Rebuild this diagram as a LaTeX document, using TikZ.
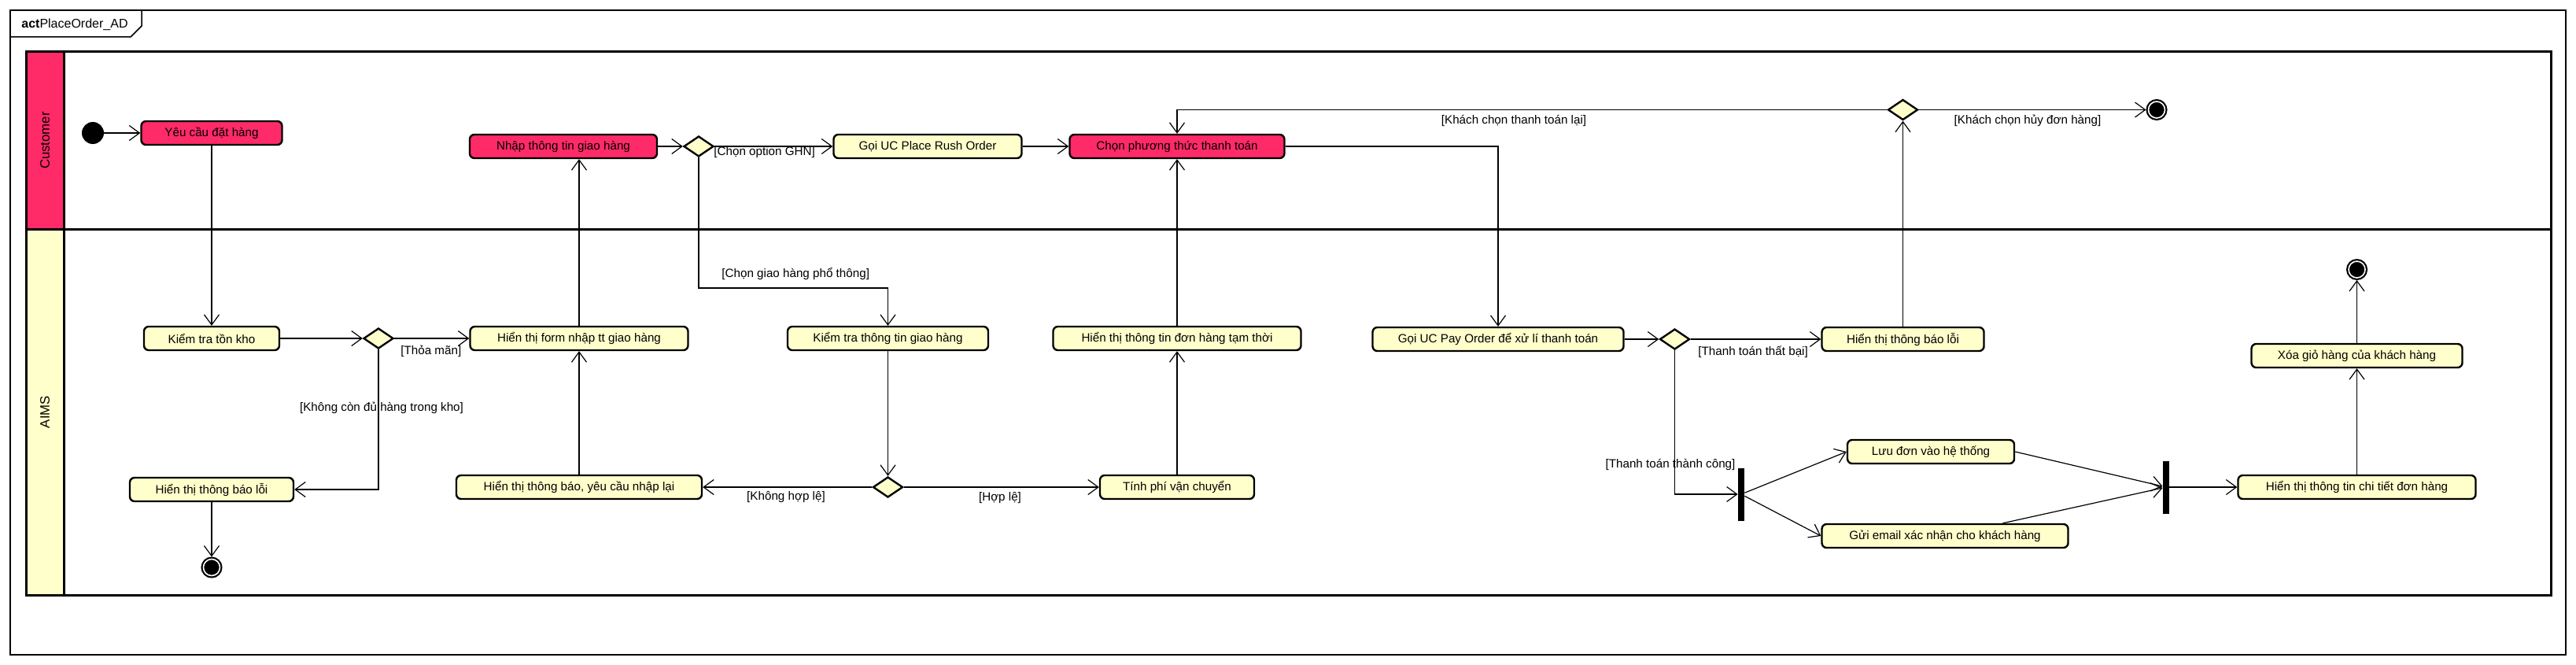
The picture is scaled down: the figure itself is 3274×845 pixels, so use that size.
\documentclass[tikz,border=0pt]{standalone}
\usepackage{fontspec}
\setmainfont{Liberation Sans}
\usepackage{tikz}
\usetikzlibrary{arrows.meta,shapes}

\definecolor{custpink}{HTML}{FF2A68}
\definecolor{aimsyellow}{HTML}{FFFFCC}
\newcommand{\actfont}{\fontsize{7.6pt}{9pt}\selectfont}

\tikzset{
    act/.style={draw, line width=1.2pt, rounded corners=3pt, fill=aimsyellow,
        minimum width=#1, minimum height=15pt, inner sep=0pt, font=\actfont},
    cact/.style={act=#1, fill=custpink},
    choice/.style={diamond, draw, line width=1.2pt, fill=aimsyellow,
        minimum width=19pt, minimum height=13pt, inner sep=0pt},
    initnode/.style={circle, fill=black, minimum size=14pt, inner sep=0pt},
    finalnode/.style={circle, fill=black, draw=black, double=white,
        double distance=0.8pt, line width=1.1pt, minimum size=10.5pt,
        inner sep=0pt, outer sep=1.5pt},
    forkbar/.style={rectangle, fill=black, minimum width=4pt,
        minimum height=33.5pt, inner sep=0pt},
    flow/.style={-{Straight Barb[length=6.5pt,width=9.5pt]}, line width=0.6pt},
    guard/.style={font=\actfont, inner sep=0pt},
    lane/.style={line width=1.5pt},
    lanename/.style={rotate=90, font=\fontsize{8.4pt}{10pt}\selectfont}
}

\begin{document}
\begin{tikzpicture}[x=0.5pt, y=-0.5pt]
    \useasboundingbox (0,0) rectangle (3274,845);
    \draw[line width=0.75pt] (13,13) rectangle (3261,832);
    \draw[line width=0.75pt] (13,47) -- (166,47) -- (180,33) -- (180,13);
    \node[anchor=west, inner sep=0pt, font=\fontsize{8pt}{10pt}\selectfont] (title) at (27,31) {\textbf{act}PlaceOrder\_AD};

    \fill[custpink] (33,66) rectangle (81,291);
    \fill[aimsyellow] (33,291) rectangle (81,756);
    \draw[lane] (33,66) rectangle (3242,756);
    \draw[lane] (33,291) -- (3242,291);
    \draw[lane] (81,66) -- (81,756);
    \node[lanename] (customer) at (57,178.5) {Customer};
    \node[lanename] (aims) at (57,523.5) {AIMS};

    \node[initnode] (init) at (118,169) {};
    \node[cact=89.5pt] (yeucau) at (269,169) {Yêu cầu đặt hàng};
    \node[cact=119pt] (nhaptt) at (716,186) {Nhập thông tin giao hàng};
    \node[choice] (dec2) at (888,186) {};
    \node[act=119.5pt] (rush) at (1179,186) {Gọi UC Place Rush Order};
    \node[cact=136.5pt] (chonpt) at (1496,186) {Chọn phương thức thanh toán};
    \node[choice] (dec5) at (2418.5,139.5) {};
    \node[finalnode] (end2) at (2741,139.5) {};

    \node[act=86pt] (tonkho) at (269,430) {Kiểm tra tồn kho};
    \node[choice] (dec1) at (481,430) {};
    \node[act=138.5pt] (form) at (736,430) {Hiển thị form nhập tt giao hàng};
    \node[act=127.5pt] (kiemtt) at (1128.5,430) {Kiểm tra thông tin giao hàng};
    \node[act=157.5pt] (tamthoi) at (1496,430) {Hiển thị thông tin đơn hàng tạm thời};
    \node[act=159.5pt] (payorder) at (1904,431) {Gọi UC Pay Order để xử lí thanh toán};
    \node[choice] (dec4) at (2128.5,431) {};
    \node[act=103pt] (loi2) at (2418.5,431) {Hiển thị thông báo lỗi};
    \node[finalnode] (end3) at (2995.5,342.5) {};
    \node[act=134pt] (xoagio) at (2995.5,452) {Xóa giỏ hàng của khách hàng};

    \node[act=104pt] (loi1) at (269,622) {Hiển thị thông báo lỗi};
    \node[finalnode] (end1) at (269,721) {};
    \node[act=156pt] (nhaplai) at (736,619) {Hiển thị thông báo, yêu cầu nhập lại};
    \node[choice] (dec3) at (1128.5,619) {};
    \node[act=98pt] (phivc) at (1496,619) {Tính phí vận chuyển};
    \node[forkbar] (fork) at (2213,628) {};
    \node[act=106pt] (luudon) at (2454,574) {Lưu đơn vào hệ thống};
    \node[act=156.5pt] (email) at (2472,681) {Gửi email xác nhận cho khách hàng};
    \node[forkbar] (join) at (2753,619) {};
    \node[act=151pt] (chitiet) at (2995.5,619) {Hiển thị thông tin chi tiết đơn hàng};

    \node[guard, anchor=west] (gthoaman) at (509,446) {[Thỏa mãn]};
    \node[guard] (gkhongdu) at (485,518) {[Không còn đủ hàng trong kho]};
    \node[guard, anchor=west] (gghn) at (907,194) {[Chọn option GHN]};
    \node[guard, anchor=west] (gphothong) at (917,348) {[Chọn giao hàng phổ thông]};
    \node[guard] (gkhonghople) at (999,632) {[Không hợp lệ]};
    \node[guard] (ghople) at (1271,633) {[Hợp lệ]};
    \node[guard] (gchonlai) at (1924,153) {[Khách chọn thanh toán lại]};
    \node[guard] (ghuy) at (2577,153) {[Khách chọn hủy đơn hàng]};
    \node[guard, anchor=west] (gthatbai) at (2158,447) {[Thanh toán thất bại]};
    \node[guard] (gthanhcong) at (2123,590) {[Thanh toán thành công]};

    \coordinate (phobend) at (1128.5,366);

    \draw[flow] (init) -- (yeucau);
    \draw[flow] (yeucau) -- (tonkho);
    \draw[flow] (tonkho) -- (dec1);
    \draw[flow] (dec1) -- (form);
    \draw[flow] (dec1.south) |- (loi1.east);
    \draw[flow] (loi1) -- (end1);
    \draw[flow] (nhaplai) -- (form);
    \draw[flow] (form.north) -- (form.north |- nhaptt.south);
    \draw[flow] (nhaptt) -- (dec2);
    \draw[flow] (dec2) -- (rush);
    \draw[flow] (dec2.south) |- (phobend) -- (kiemtt.north);
    \draw[flow] (rush) -- (chonpt);
    \draw[flow] (kiemtt) -- (dec3);
    \draw[flow] (dec3) -- (nhaplai);
    \draw[flow] (dec3) -- (phivc);
    \draw[flow] (phivc) -- (tamthoi);
    \draw[flow] (tamthoi) -- (chonpt);
    \draw[flow] (chonpt.east) -| (payorder.north);
    \draw[flow] (payorder) -- (dec4);
    \draw[flow] (dec4) -- (loi2);
    \draw[flow] (loi2) -- (dec5);
    \draw[flow] (dec5.west) -| (chonpt.north);
    \draw[flow] (dec5) -- (end2);
    \draw[flow] (dec4.south) |- (fork);
    \draw[flow] (fork) -- (luudon.west);
    \draw[flow] (fork) -- (email.west);
    \draw[flow] (luudon.east) -- (join);
    \draw[flow] (email) -- (join);
    \draw[flow] (join) -- (chitiet);
    \draw[flow] (chitiet) -- (xoagio);
    \draw[flow] (xoagio) -- (end3);
\end{tikzpicture}
\end{document}
